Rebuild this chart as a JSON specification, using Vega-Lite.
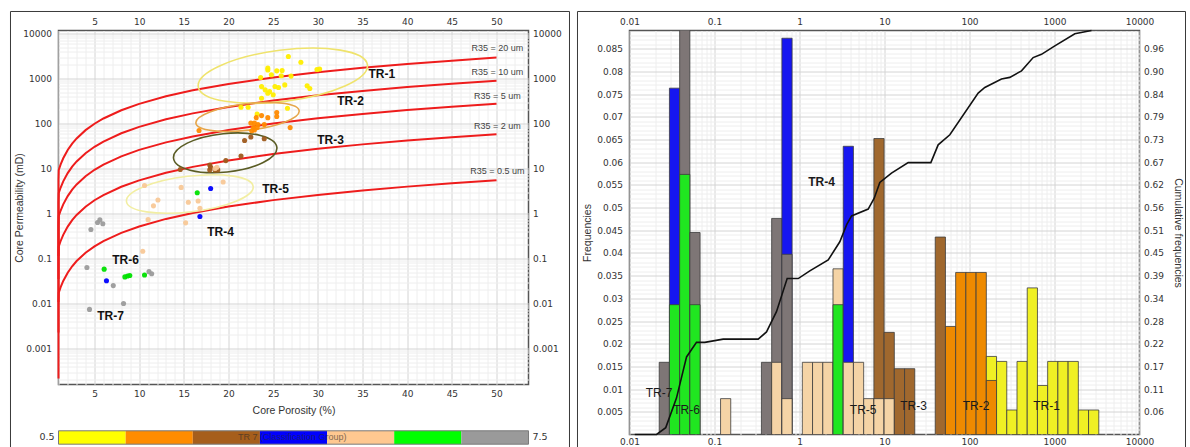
{
  "$schema": "https://vega.github.io/schema/vega-lite/v6.json",
  "background": "white",
  "padding": {"left": 8.5, "top": 9.5, "right": 0, "bottom": 0},
  "bounds": "flush",
  "spacing": 101,
  "datasets": {
    "pts": [
      {"phi": 26.7, "k": 3090, "tr": 1}, {"phi": 28.1, "k": 2300, "tr": 1}, {"phi": 24.4, "k": 1700, "tr": 1},
      {"phi": 24.8, "k": 1210, "tr": 1}, {"phi": 25.4, "k": 1480, "tr": 1}, {"phi": 25.9, "k": 1150, "tr": 1},
      {"phi": 27.0, "k": 1130, "tr": 1}, {"phi": 23.6, "k": 1050, "tr": 1}, {"phi": 29.9, "k": 1590, "tr": 1},
      {"phi": 30.2, "k": 1620, "tr": 1}, {"phi": 23.7, "k": 660, "tr": 1}, {"phi": 24.1, "k": 560, "tr": 1},
      {"phi": 24.6, "k": 515, "tr": 1}, {"phi": 25.0, "k": 435, "tr": 1}, {"phi": 25.6, "k": 630, "tr": 1},
      {"phi": 26.3, "k": 720, "tr": 1}, {"phi": 24.4, "k": 470, "tr": 1}, {"phi": 28.8, "k": 690, "tr": 1},
      {"phi": 29.1, "k": 600, "tr": 1}, {"phi": 26.6, "k": 219, "tr": 1}, {"phi": 21.4, "k": 229, "tr": 1},
      {"phi": 22.2, "k": 229, "tr": 1}, {"phi": 23.2, "k": 162, "tr": 1}, {"phi": 24.4, "k": 1550, "tr": 1},
      {"phi": 26.0, "k": 1510, "tr": 1}, {"phi": 23.7, "k": 365, "tr": 1}, {"phi": 25.2, "k": 665, "tr": 1},
      {"phi": 25.4, "k": 175, "tr": 2}, {"phi": 24.4, "k": 135, "tr": 2}, {"phi": 23.1, "k": 135, "tr": 2},
      {"phi": 22.5, "k": 102, "tr": 2}, {"phi": 22.9, "k": 102, "tr": 2}, {"phi": 23.3, "k": 95, "tr": 2},
      {"phi": 22.8, "k": 81, "tr": 2}, {"phi": 23.2, "k": 81, "tr": 2}, {"phi": 22.6, "k": 69, "tr": 2},
      {"phi": 22.9, "k": 72, "tr": 2}, {"phi": 26.9, "k": 81, "tr": 2}, {"phi": 16.7, "k": 70, "tr": 2},
      {"phi": 24.0, "k": 95, "tr": 2}, {"phi": 25.4, "k": 143, "tr": 2}, {"phi": 23.7, "k": 150, "tr": 2},
      {"phi": 22.5, "k": 50, "tr": 3}, {"phi": 24.0, "k": 46, "tr": 3}, {"phi": 21.8, "k": 42, "tr": 3},
      {"phi": 21.4, "k": 19, "tr": 3}, {"phi": 19.7, "k": 15, "tr": 3}, {"phi": 17.9, "k": 12, "tr": 3},
      {"phi": 17.9, "k": 9.3, "tr": 3}, {"phi": 18.5, "k": 9.3, "tr": 3}, {"phi": 18.8, "k": 9.3, "tr": 3},
      {"phi": 14.6, "k": 9.5, "tr": 3}, {"phi": 18.0, "k": 10.7, "tr": 3},
      {"phi": 18.5, "k": 10, "tr": 5}, {"phi": 19.4, "k": 5, "tr": 5}, {"phi": 14.7, "k": 3.8, "tr": 5},
      {"phi": 15.5, "k": 1.78, "tr": 5}, {"phi": 16.6, "k": 1.9, "tr": 5}, {"phi": 16.8, "k": 1.3, "tr": 5},
      {"phi": 15.2, "k": 0.62, "tr": 5}, {"phi": 10.6, "k": 4.2, "tr": 5}, {"phi": 12.1, "k": 2.0, "tr": 5},
      {"phi": 11.6, "k": 1.48, "tr": 5}, {"phi": 11.0, "k": 0.73, "tr": 5}, {"phi": 10.4, "k": 0.145, "tr": 5},
      {"phi": 18.7, "k": 10.7, "tr": 5},
      {"phi": 18.0, "k": 3.6, "tr": 4}, {"phi": 16.8, "k": 0.86, "tr": 4}, {"phi": 6.34, "k": 0.032, "tr": 4},
      {"phi": 16.5, "k": 2.9, "tr": 6}, {"phi": 6.08, "k": 0.058, "tr": 6}, {"phi": 8.4, "k": 0.039, "tr": 6},
      {"phi": 8.7, "k": 0.041, "tr": 6}, {"phi": 8.95, "k": 0.042, "tr": 6}, {"phi": 10.6, "k": 0.043, "tr": 6},
      {"phi": 5.34, "k": 0.63, "tr": 7}, {"phi": 5.6, "k": 0.72, "tr": 7}, {"phi": 5.93, "k": 0.59, "tr": 7},
      {"phi": 4.6, "k": 0.44, "tr": 7}, {"phi": 4.15, "k": 0.063, "tr": 7}, {"phi": 7.1, "k": 0.025, "tr": 7},
      {"phi": 11.1, "k": 0.051, "tr": 7}, {"phi": 11.4, "k": 0.046, "tr": 7}, {"phi": 8.25, "k": 0.01, "tr": 7},
      {"phi": 4.44, "k": 0.0074, "tr": 7}
    ],
    "r35curves": [
      {"r": "20", "phi": 0.05, "k": 0.1138}, {"r": "20", "phi": 0.1, "k": 0.315}, {"r": "20", "phi": 0.2, "k": 0.8724},
      {"r": "20", "phi": 0.4, "k": 2.416}, {"r": "20", "phi": 0.7, "k": 5.497}, {"r": "20", "phi": 1, "k": 9.284},
      {"r": "20", "phi": 1.2, "k": 12.14}, {"r": "20", "phi": 1.5, "k": 16.85}, {"r": "20", "phi": 2, "k": 25.71},
      {"r": "20", "phi": 2.5, "k": 35.68}, {"r": "20", "phi": 3, "k": 46.66}, {"r": "20", "phi": 4, "k": 71.18},
      {"r": "20", "phi": 5, "k": 98.81}, {"r": "20", "phi": 6, "k": 129.2}, {"r": "20", "phi": 8, "k": 197.2},
      {"r": "20", "phi": 10, "k": 273.6}, {"r": "20", "phi": 13, "k": 402.3}, {"r": "20", "phi": 16, "k": 545.9},
      {"r": "20", "phi": 20, "k": 757.8}, {"r": "20", "phi": 25, "k": 1051.6}, {"r": "20", "phi": 30, "k": 1374.7},
      {"r": "20", "phi": 35, "k": 1724.6}, {"r": "20", "phi": 40, "k": 2098.2}, {"r": "20", "phi": 45, "k": 2494.6},
      {"r": "20", "phi": 50, "k": 2911.6},
      {"r": "10", "phi": 0.05, "k": 0.035}, {"r": "10", "phi": 0.1, "k": 0.09688}, {"r": "10", "phi": 0.2, "k": 0.2683},
      {"r": "10", "phi": 0.4, "k": 0.7431}, {"r": "10", "phi": 0.7, "k": 1.691}, {"r": "10", "phi": 1, "k": 2.855},
      {"r": "10", "phi": 1.2, "k": 3.734}, {"r": "10", "phi": 1.5, "k": 5.182}, {"r": "10", "phi": 2, "k": 7.908},
      {"r": "10", "phi": 2.5, "k": 10.974}, {"r": "10", "phi": 3, "k": 14.35}, {"r": "10", "phi": 4, "k": 21.89},
      {"r": "10", "phi": 5, "k": 30.39}, {"r": "10", "phi": 6, "k": 39.74}, {"r": "10", "phi": 8, "k": 60.65},
      {"r": "10", "phi": 10, "k": 84.15}, {"r": "10", "phi": 13, "k": 123.7}, {"r": "10", "phi": 16, "k": 167.9},
      {"r": "10", "phi": 20, "k": 233.1}, {"r": "10", "phi": 25, "k": 323.4}, {"r": "10", "phi": 30, "k": 422.8},
      {"r": "10", "phi": 35, "k": 530.4}, {"r": "10", "phi": 40, "k": 645.3}, {"r": "10", "phi": 45, "k": 767.2},
      {"r": "10", "phi": 50, "k": 895.5},
      {"r": "5", "phi": 0.05, "k": 0.01077}, {"r": "5", "phi": 0.1, "k": 0.02981}, {"r": "5", "phi": 0.2, "k": 0.08257},
      {"r": "5", "phi": 0.4, "k": 0.2287}, {"r": "5", "phi": 0.7, "k": 0.5203}, {"r": "5", "phi": 1, "k": 0.8787},
      {"r": "5", "phi": 1.2, "k": 1.149}, {"r": "5", "phi": 1.5, "k": 1.595}, {"r": "5", "phi": 2, "k": 2.433},
      {"r": "5", "phi": 2.5, "k": 3.377}, {"r": "5", "phi": 3, "k": 4.416}, {"r": "5", "phi": 4, "k": 6.737},
      {"r": "5", "phi": 5, "k": 9.352}, {"r": "5", "phi": 6, "k": 12.23}, {"r": "5", "phi": 8, "k": 18.66},
      {"r": "5", "phi": 10, "k": 25.9}, {"r": "5", "phi": 13, "k": 38.08}, {"r": "5", "phi": 16, "k": 51.67},
      {"r": "5", "phi": 20, "k": 71.72}, {"r": "5", "phi": 25, "k": 99.53}, {"r": "5", "phi": 30, "k": 130.1},
      {"r": "5", "phi": 35, "k": 163.2}, {"r": "5", "phi": 40, "k": 198.6}, {"r": "5", "phi": 45, "k": 236.1},
      {"r": "5", "phi": 50, "k": 275.6},
      {"r": "2", "phi": 0.05, "k": 0.002267}, {"r": "2", "phi": 0.1, "k": 0.006276}, {"r": "2", "phi": 0.2, "k": 0.01738},
      {"r": "2", "phi": 0.4, "k": 0.04814}, {"r": "2", "phi": 0.7, "k": 0.1095}, {"r": "2", "phi": 1, "k": 0.185},
      {"r": "2", "phi": 1.2, "k": 0.2419}, {"r": "2", "phi": 1.5, "k": 0.3357}, {"r": "2", "phi": 2, "k": 0.5123},
      {"r": "2", "phi": 2.5, "k": 0.7109}, {"r": "2", "phi": 3, "k": 0.9297}, {"r": "2", "phi": 4, "k": 1.4183},
      {"r": "2", "phi": 5, "k": 1.9688}, {"r": "2", "phi": 6, "k": 2.574}, {"r": "2", "phi": 8, "k": 3.929},
      {"r": "2", "phi": 10, "k": 5.451}, {"r": "2", "phi": 13, "k": 8.016}, {"r": "2", "phi": 16, "k": 10.877},
      {"r": "2", "phi": 20, "k": 15.1}, {"r": "2", "phi": 25, "k": 20.95}, {"r": "2", "phi": 30, "k": 27.39},
      {"r": "2", "phi": 35, "k": 34.36}, {"r": "2", "phi": 40, "k": 41.8}, {"r": "2", "phi": 45, "k": 49.7},
      {"r": "2", "phi": 50, "k": 58.01},
      {"r": "0.5", "phi": 0.05, "k": 0.0002145}, {"r": "0.5", "phi": 0.1, "k": 0.000594}, {"r": "0.5", "phi": 0.2, "k": 0.001645},
      {"r": "0.5", "phi": 0.4, "k": 0.004556}, {"r": "0.5", "phi": 0.7, "k": 0.010365}, {"r": "0.5", "phi": 1, "k": 0.017506},
      {"r": "0.5", "phi": 1.2, "k": 0.02289}, {"r": "0.5", "phi": 1.5, "k": 0.03177}, {"r": "0.5", "phi": 2, "k": 0.04848},
      {"r": "0.5", "phi": 2.5, "k": 0.06728}, {"r": "0.5", "phi": 3, "k": 0.08798}, {"r": "0.5", "phi": 4, "k": 0.13421},
      {"r": "0.5", "phi": 5, "k": 0.18631}, {"r": "0.5", "phi": 6, "k": 0.2436}, {"r": "0.5", "phi": 8, "k": 0.3718},
      {"r": "0.5", "phi": 10, "k": 0.5159}, {"r": "0.5", "phi": 13, "k": 0.7586}, {"r": "0.5", "phi": 16, "k": 1.0293},
      {"r": "0.5", "phi": 20, "k": 1.4289}, {"r": "0.5", "phi": 25, "k": 1.9829}, {"r": "0.5", "phi": 30, "k": 2.592},
      {"r": "0.5", "phi": 35, "k": 3.252}, {"r": "0.5", "phi": 40, "k": 3.956}, {"r": "0.5", "phi": 45, "k": 4.704},
      {"r": "0.5", "phi": 50, "k": 5.49}
    ],
    "r35labels": [
      {"phi": 50.1, "k": 4710, "label": "R35 = 20 um"},
      {"phi": 50.1, "k": 1360, "label": "R35 = 10 um"},
      {"phi": 50.1, "k": 419, "label": "R35 = 5 um"},
      {"phi": 50.1, "k": 87, "label": "R35 = 2 um"},
      {"phi": 50.1, "k": 8.58, "label": "R35 = 0.5 um"}
    ],
    "ellipses": [
      {"tr": 1, "phi": 26.08, "k": 1154},
      {"tr": 2, "phi": 22.13, "k": 139.5},
      {"tr": 3, "phi": 19.63, "k": 22.33},
      {"tr": 5, "phi": 15.67, "k": 2.713}
    ],
    "trlabels": [
      {"phi": 37.16, "k": 1246, "label": "TR-1"},
      {"phi": 33.66, "k": 308.3, "label": "TR-2"},
      {"phi": 31.42, "k": 44.1, "label": "TR-3"},
      {"phi": 25.26, "k": 3.594, "label": "TR-5"},
      {"phi": 19.1, "k": 0.398, "label": "TR-4"},
      {"phi": 8.47, "k": 0.095, "label": "TR-6"},
      {"phi": 6.79, "k": 0.00541, "label": "TR-7"}
    ],
    "classbar": [
      {"lo": 0.5, "hi": 1.5, "tr": 1}, {"lo": 1.5, "hi": 2.5, "tr": 2}, {"lo": 2.5, "hi": 3.5, "tr": 3},
      {"lo": 3.5, "hi": 4.5, "tr": 4}, {"lo": 4.5, "hi": 5.5, "tr": 5}, {"lo": 5.5, "hi": 6.5, "tr": 6},
      {"lo": 6.5, "hi": 7.5, "tr": 7}
    ],
    "bins": [
      {"lo": 0.02236, "hi": 0.02949, "tr": 7, "f": 0.0159},
      {"lo": 0.02949, "hi": 0.0389, "tr": 4, "f": 0.0763},
      {"lo": 0.02949, "hi": 0.0389, "tr": 6, "f": 0.0286},
      {"lo": 0.0389, "hi": 0.05131, "tr": 7, "f": 0.0952},
      {"lo": 0.0389, "hi": 0.05131, "tr": 6, "f": 0.0573},
      {"lo": 0.05131, "hi": 0.06768, "tr": 7, "f": 0.0445},
      {"lo": 0.05131, "hi": 0.06768, "tr": 6, "f": 0.0286},
      {"lo": 0.1178, "hi": 0.1553, "tr": 5, "f": 0.0079},
      {"lo": 0.3565, "hi": 0.4703, "tr": 7, "f": 0.0159},
      {"lo": 0.4703, "hi": 0.6204, "tr": 7, "f": 0.0476},
      {"lo": 0.4703, "hi": 0.6204, "tr": 5, "f": 0.0159},
      {"lo": 0.6204, "hi": 0.8184, "tr": 4, "f": 0.0873},
      {"lo": 0.6204, "hi": 0.8184, "tr": 7, "f": 0.0397},
      {"lo": 0.6204, "hi": 0.8184, "tr": 5, "f": 0.0079},
      {"lo": 1.0794, "hi": 1.4238, "tr": 5, "f": 0.0159},
      {"lo": 1.4238, "hi": 1.8781, "tr": 5, "f": 0.0159},
      {"lo": 1.8781, "hi": 2.4774, "tr": 5, "f": 0.0159},
      {"lo": 2.4774, "hi": 3.2677, "tr": 5, "f": 0.0365},
      {"lo": 2.4774, "hi": 3.2677, "tr": 6, "f": 0.0286},
      {"lo": 3.2677, "hi": 4.3104, "tr": 4, "f": 0.0635},
      {"lo": 3.2677, "hi": 4.3104, "tr": 5, "f": 0.0159},
      {"lo": 4.3104, "hi": 5.6858, "tr": 5, "f": 0.0159},
      {"lo": 5.6858, "hi": 7.5009, "tr": 5, "f": 0.0079},
      {"lo": 7.5009, "hi": 9.892, "tr": 3, "f": 0.0652},
      {"lo": 7.5009, "hi": 9.892, "tr": 5, "f": 0.0079},
      {"lo": 9.892, "hi": 13.05, "tr": 3, "f": 0.0225},
      {"lo": 9.892, "hi": 13.05, "tr": 5, "f": 0.0079},
      {"lo": 13.05, "hi": 17.22, "tr": 3, "f": 0.0145},
      {"lo": 17.22, "hi": 22.71, "tr": 3, "f": 0.0145},
      {"lo": 39.51, "hi": 52.11, "tr": 3, "f": 0.0435},
      {"lo": 52.11, "hi": 68.74, "tr": 2, "f": 0.0238},
      {"lo": 68.74, "hi": 90.68, "tr": 2, "f": 0.0357},
      {"lo": 90.68, "hi": 119.6, "tr": 2, "f": 0.0357},
      {"lo": 119.6, "hi": 157.8, "tr": 2, "f": 0.0357},
      {"lo": 157.8, "hi": 208.1, "tr": 1, "f": 0.0172},
      {"lo": 157.8, "hi": 208.1, "tr": 2, "f": 0.0119},
      {"lo": 208.1, "hi": 274.5, "tr": 1, "f": 0.0161},
      {"lo": 274.5, "hi": 362.1, "tr": 1, "f": 0.0054},
      {"lo": 362.1, "hi": 477.6, "tr": 1, "f": 0.0161},
      {"lo": 477.6, "hi": 630, "tr": 1, "f": 0.0323},
      {"lo": 630, "hi": 831, "tr": 1, "f": 0.0108},
      {"lo": 831, "hi": 1096, "tr": 1, "f": 0.0161},
      {"lo": 1096, "hi": 1446, "tr": 1, "f": 0.0161},
      {"lo": 1446, "hi": 1907, "tr": 1, "f": 0.0161},
      {"lo": 1907, "hi": 2516, "tr": 1, "f": 0.0054},
      {"lo": 2516, "hi": 3319, "tr": 1, "f": 0.0054}
    ],
    "cumulative": [
      {"cx": 0.01154, "cum": 0}, {"cx": 0.0208, "cum": 0}, {"cx": 0.0267, "cum": 0.017},
      {"cx": 0.0357, "cum": 0.09}, {"cx": 0.0469, "cum": 0.192}, {"cx": 0.0614, "cum": 0.228},
      {"cx": 0.0769, "cum": 0.228}, {"cx": 0.1265, "cum": 0.236}, {"cx": 0.3266, "cum": 0.236},
      {"cx": 0.409, "cum": 0.254}, {"cx": 0.536, "cum": 0.304}, {"cx": 0.716, "cum": 0.386},
      {"cx": 0.966, "cum": 0.386}, {"cx": 1.322, "cum": 0.405}, {"cx": 2.177, "cum": 0.432},
      {"cx": 2.98, "cum": 0.477}, {"cx": 3.6, "cum": 0.52}, {"cx": 4.1, "cum": 0.541},
      {"cx": 6.43, "cum": 0.558}, {"cx": 7.57, "cum": 0.585}, {"cx": 8.81, "cum": 0.624},
      {"cx": 12.08, "cum": 0.647}, {"cx": 19.0, "cum": 0.673}, {"cx": 35.1, "cum": 0.673},
      {"cx": 42.8, "cum": 0.717}, {"cx": 58.7, "cum": 0.742}, {"cx": 126.5, "cum": 0.845},
      {"cx": 151.4, "cum": 0.859}, {"cx": 237.8, "cum": 0.88}, {"cx": 297.8, "cum": 0.884},
      {"cx": 409, "cum": 0.9}, {"cx": 561, "cum": 0.933}, {"cx": 703, "cum": 0.941},
      {"cx": 1009, "cum": 0.962}, {"cx": 1734, "cum": 0.992}, {"cx": 2723, "cum": 1.0}
    ],
    "histlabels": [
      {"x": 0.02224, "y": 0.00904, "label": "TR-7"},
      {"x": 0.04684, "y": 0.005445, "label": "TR-6"},
      {"x": 5.616, "y": 0.005445, "label": "TR-5"},
      {"x": 21.94, "y": 0.006327, "label": "TR-3"},
      {"x": 119.2, "y": 0.006327, "label": "TR-2"},
      {"x": 805.2, "y": 0.006327, "label": "TR-1"}
    ],
    "histlabelsBold": [
      {"x": 1.815, "y": 0.05571, "label": "TR-4"}
    ],
    "single": [{}]
  },
  "hconcat": [
    {
      "width": 470,
      "height": 354,
      "layer": [
        {
          "layer": [
            {
              "data": {"name": "r35curves"},
              "mark": {"type": "line", "color": "#ee1c1c", "strokeWidth": 2},
              "encoding": {
                "x": {
                  "field": "phi", "type": "quantitative",
                  "scale": {"type": "linear", "domain": [0.97, 53.58], "clamp": true, "nice": false, "zero": false},
                  "axis": {
                    "orient": "bottom", "title": "Core Porosity (%)", "labelPadding": 5, "titlePadding": 7,
                    "values": [1,2,3,4,5,6,7,8,9,10,11,12,13,14,15,16,17,18,19,20,21,22,23,24,25,26,27,28,29,30,31,32,33,34,35,36,37,38,39,40,41,42,43,44,45,46,47,48,49,50,51,52,53],
                    "labelExpr": "datum.value % 5 === 0 ? datum.label : ''",
                    "grid": true,
                    "gridColor": {"condition": {"test": "datum.value % 5 === 0", "value": "#d4d4d4"}, "value": "#eeeeee"}
                  }
                },
                "y": {
                  "field": "k", "type": "quantitative",
                  "scale": {"type": "log", "domain": [0.0001585, 11660], "nice": false},
                  "axis": {
                    "orient": "left", "title": "Core Permeability (mD)", "labelPadding": 7, "titlePadding": -2,
                    "values": [0.0002,0.0003,0.0004,0.0005,0.0006,0.0007,0.0008,0.0009,0.001,0.002,0.003,0.004,0.005,0.006,0.007,0.008,0.009,0.01,0.02,0.03,0.04,0.05,0.06,0.07,0.08,0.09,0.1,0.2,0.3,0.4,0.5,0.6,0.7,0.8,0.9,1,2,3,4,5,6,7,8,9,10,20,30,40,50,60,70,80,90,100,200,300,400,500,600,700,800,900,1000,2000,3000,4000,5000,6000,7000,8000,9000,10000],
                    "labelExpr": "abs(log(datum.value)/LN10 - round(log(datum.value)/LN10)) < 0.000001 ? format(datum.value, '~g') : ''",
                    "grid": true,
                    "gridColor": {"condition": {"test": "abs(log(datum.value)/LN10 - round(log(datum.value)/LN10)) < 0.000001", "value": "#d4d4d4"}, "value": "#eeeeee"}
                  }
                },
                "detail": {"field": "r", "type": "nominal"}
              }
            },
            {
              "data": {"name": "ellipses"},
              "transform": [{"filter": "datum.tr == 1"}],
              "mark": {"type": "point", "shape": "M -1 0 A 1 0.3 0 1 1 1 0 A 1 0.3 0 1 1 -1 0 Z", "size": 29100, "angle": -7.3, "filled": false, "stroke": "#efe36c", "strokeWidth": 1.6, "opacity": 1},
              "encoding": {
                "x": {"field": "phi", "type": "quantitative", "scale": {"type": "linear", "domain": [0.97, 53.58], "clamp": true, "nice": false, "zero": false}, "axis": null},
                "y": {"field": "k", "type": "quantitative", "scale": {"type": "log", "domain": [0.0001585, 11660], "nice": false}, "axis": null}
              }
            },
            {
              "data": {"name": "ellipses"},
              "transform": [{"filter": "datum.tr == 2"}],
              "mark": {"type": "point", "shape": "M -1 0 A 1 0.255 0 1 1 1 0 A 1 0.255 0 1 1 -1 0 Z", "size": 10816, "angle": -6.8, "filled": false, "stroke": "#e6a64a", "strokeWidth": 1.6, "opacity": 1},
              "encoding": {
                "x": {"field": "phi", "type": "quantitative", "scale": {"type": "linear", "domain": [0.97, 53.58], "clamp": true, "nice": false, "zero": false}, "axis": null},
                "y": {"field": "k", "type": "quantitative", "scale": {"type": "log", "domain": [0.0001585, 11660], "nice": false}, "axis": null}
              }
            },
            {
              "data": {"name": "ellipses"},
              "transform": [{"filter": "datum.tr == 3"}],
              "mark": {"type": "point", "shape": "M -1 0 A 1 0.37 0 1 1 1 0 A 1 0.37 0 1 1 -1 0 Z", "size": 10800, "angle": -6, "filled": false, "stroke": "#5a5c24", "strokeWidth": 1.6, "opacity": 1},
              "encoding": {
                "x": {"field": "phi", "type": "quantitative", "scale": {"type": "linear", "domain": [0.97, 53.58], "clamp": true, "nice": false, "zero": false}, "axis": null},
                "y": {"field": "k", "type": "quantitative", "scale": {"type": "log", "domain": [0.0001585, 11660], "nice": false}, "axis": null}
              }
            },
            {
              "data": {"name": "ellipses"},
              "transform": [{"filter": "datum.tr == 5"}],
              "mark": {"type": "point", "shape": "M -1 0 A 1 0.28 0 1 1 1 0 A 1 0.28 0 1 1 -1 0 Z", "size": 16280, "angle": -6.75, "filled": false, "stroke": "#f2eea2", "strokeWidth": 1.6, "opacity": 1},
              "encoding": {
                "x": {"field": "phi", "type": "quantitative", "scale": {"type": "linear", "domain": [0.97, 53.58], "clamp": true, "nice": false, "zero": false}, "axis": null},
                "y": {"field": "k", "type": "quantitative", "scale": {"type": "log", "domain": [0.0001585, 11660], "nice": false}, "axis": null}
              }
            },
            {
              "data": {"name": "pts"},
              "mark": {"type": "circle", "size": 26, "opacity": 0.95},
              "encoding": {
                "x": {"field": "phi", "type": "quantitative", "scale": {"type": "linear", "domain": [0.97, 53.58], "clamp": true, "nice": false, "zero": false}, "axis": null},
                "y": {"field": "k", "type": "quantitative", "scale": {"type": "log", "domain": [0.0001585, 11660], "nice": false}, "axis": null},
                "color": {
                  "field": "tr", "type": "ordinal", "legend": null,
                  "scale": {"domain": [1, 2, 3, 4, 5, 6, 7], "range": ["#ffee00", "#ff8a00", "#9e5a1c", "#0000ff", "#f8c897", "#00e000", "#9b9b9b"]}
                }
              }
            },
            {
              "data": {"name": "trlabels"},
              "mark": {"type": "text", "font": "Liberation Sans", "fontSize": 12, "fontWeight": "bold", "color": "#111111", "align": "center", "baseline": "middle"},
              "encoding": {
                "x": {"field": "phi", "type": "quantitative", "scale": {"type": "linear", "domain": [0.97, 53.58], "clamp": true, "nice": false, "zero": false}, "axis": null},
                "y": {"field": "k", "type": "quantitative", "scale": {"type": "log", "domain": [0.0001585, 11660], "nice": false}, "axis": null},
                "text": {"field": "label"}
              }
            },
            {
              "data": {"name": "r35labels"},
              "mark": {"type": "text", "font": "Liberation Sans", "fontSize": 9, "color": "#444444", "align": "center", "baseline": "middle"},
              "encoding": {
                "x": {
                  "field": "phi", "type": "quantitative",
                  "scale": {"type": "linear", "domain": [0.97, 53.58], "clamp": true, "nice": false, "zero": false},
                  "axis": {"orient": "top", "title": null, "grid": false, "labelPadding": 4, "values": [5, 10, 15, 20, 25, 30, 35, 40, 45, 50]}
                },
                "y": {
                  "field": "k", "type": "quantitative",
                  "scale": {"type": "log", "domain": [0.0001585, 11660], "nice": false},
                  "axis": {"orient": "right", "title": null, "grid": false, "labelPadding": 4, "format": "~g", "values": [0.001, 0.01, 0.1, 1, 10, 100, 1000, 10000]}
                },
                "text": {"field": "label"}
              }
            }
          ],
          "resolve": {"axis": {"x": "independent", "y": "independent"}}
        },
        {
          "layer": [
            {
              "data": {"name": "classbar"},
              "mark": {"type": "rect"},
              "encoding": {
                "x": {"field": "lo", "type": "quantitative", "scale": {"domain": [0.5, 7.5], "nice": false, "zero": false}, "axis": null},
                "x2": {"field": "hi"},
                "y": {"datum": -0.1308, "type": "quantitative", "scale": {"domain": [0, 1], "nice": false, "zero": false}, "axis": null},
                "y2": {"datum": -0.1686},
                "color": {
                  "field": "tr", "type": "ordinal", "legend": null,
                  "scale": {"domain": [1, 2, 3, 4, 5, 6, 7], "range": ["#ffff00", "#ff8c00", "#a65e1c", "#0000ff", "#ffc890", "#00ff00", "#9a9a9a"]}
                }
              }
            },
            {
              "data": {"name": "single"},
              "mark": {"type": "rect", "fill": null, "stroke": "#7a7a7a", "strokeWidth": 1},
              "encoding": {
                "x": {"datum": 0.5, "type": "quantitative", "scale": {"domain": [0.5, 7.5], "nice": false, "zero": false}, "axis": null},
                "x2": {"datum": 7.5},
                "y": {"datum": -0.1308, "type": "quantitative", "scale": {"domain": [0, 1], "nice": false, "zero": false}, "axis": null},
                "y2": {"datum": -0.1686}
              }
            },
            {
              "data": {"name": "single"},
              "mark": {"type": "text", "font": "Liberation Sans", "fontSize": 9, "color": "#2a2a2a", "opacity": 0.6, "align": "center", "baseline": "middle", "text": "TR 7 (Classification Group)"},
              "encoding": {
                "x": {"datum": 3.98, "type": "quantitative", "scale": {"domain": [0.5, 7.5], "nice": false, "zero": false}, "axis": null},
                "y": {"datum": -0.1497, "type": "quantitative", "scale": {"domain": [0, 1], "nice": false, "zero": false}, "axis": null}
              }
            },
            {
              "data": {"name": "single"},
              "mark": {"type": "text", "font": "DejaVu Sans", "fontSize": 9.5, "color": "#333333", "align": "right", "baseline": "middle", "dx": -4, "text": "0.5"},
              "encoding": {
                "x": {"datum": 0.5, "type": "quantitative", "scale": {"domain": [0.5, 7.5], "nice": false, "zero": false}, "axis": null},
                "y": {"datum": -0.1497, "type": "quantitative", "scale": {"domain": [0, 1], "nice": false, "zero": false}, "axis": null}
              }
            },
            {
              "data": {"name": "single"},
              "mark": {"type": "text", "font": "DejaVu Sans", "fontSize": 9.5, "color": "#333333", "align": "left", "baseline": "middle", "dx": 4, "text": "7.5"},
              "encoding": {
                "x": {"datum": 7.5, "type": "quantitative", "scale": {"domain": [0.5, 7.5], "nice": false, "zero": false}, "axis": null},
                "y": {"datum": -0.1497, "type": "quantitative", "scale": {"domain": [0, 1], "nice": false, "zero": false}, "axis": null}
              }
            },
            {
              "data": {"name": "single"},
              "mark": {"type": "rule", "color": "#3a3a3a", "strokeWidth": 1},
              "encoding": {
                "x": {"datum": -0.2149, "type": "quantitative", "scale": {"domain": [0.5, 7.5], "nice": false, "zero": false}, "axis": null},
                "y": {"datum": 1.0537, "type": "quantitative", "scale": {"domain": [0, 1], "nice": false, "zero": false}, "axis": null},
                "y2": {"datum": -0.1808}
              }
            },
            {
              "data": {"name": "single"},
              "mark": {"type": "rule", "color": "#3a3a3a", "strokeWidth": 1},
              "encoding": {
                "x": {"datum": 8.1106, "type": "quantitative", "scale": {"domain": [0.5, 7.5], "nice": false, "zero": false}, "axis": null},
                "y": {"datum": 1.0537, "type": "quantitative", "scale": {"domain": [0, 1], "nice": false, "zero": false}, "axis": null},
                "y2": {"datum": -0.1808}
              }
            },
            {
              "data": {"name": "single"},
              "mark": {"type": "rule", "color": "#3a3a3a", "strokeWidth": 1},
              "encoding": {
                "x": {"datum": -0.2149, "type": "quantitative", "scale": {"domain": [0.5, 7.5], "nice": false, "zero": false}, "axis": null},
                "x2": {"datum": 8.1106},
                "y": {"datum": 1.0537, "type": "quantitative", "scale": {"domain": [0, 1], "nice": false, "zero": false}, "axis": null}
              }
            }
          ]
        }
      ],
      "resolve": {"scale": {"x": "independent", "y": "independent", "color": "independent"}}
    },
    {
      "width": 510,
      "height": 404,
      "layer": [
        {
          "data": {"name": "single"},
          "mark": {"type": "rule", "color": "#3a3a3a", "strokeWidth": 1},
          "encoding": {
            "x": {"datum": 0.002444, "type": "quantitative", "scale": {"type": "log", "domain": [0.01, 10000], "nice": false}, "axis": null},
            "y": {"datum": 0.093186, "type": "quantitative", "scale": {"domain": [0, 0.089], "nice": false, "zero": false}, "axis": null},
            "y2": {"datum": -0.003084}
          }
        },
        {
          "data": {"name": "single"},
          "mark": {"type": "rule", "color": "#3a3a3a", "strokeWidth": 1},
          "encoding": {
            "x": {"datum": 34770, "type": "quantitative", "scale": {"type": "log", "domain": [0.01, 10000], "nice": false}, "axis": null},
            "y": {"datum": 0.093186, "type": "quantitative", "scale": {"domain": [0, 0.089], "nice": false, "zero": false}, "axis": null},
            "y2": {"datum": -0.003084}
          }
        },
        {
          "data": {"name": "single"},
          "mark": {"type": "rule", "color": "#3a3a3a", "strokeWidth": 1},
          "encoding": {
            "x": {"datum": 0.002444, "type": "quantitative", "scale": {"type": "log", "domain": [0.01, 10000], "nice": false}, "axis": null},
            "x2": {"datum": 34770},
            "y": {"datum": 0.093186, "type": "quantitative", "scale": {"domain": [0, 0.089], "nice": false, "zero": false}, "axis": null}
          }
        },
        {
          "data": {"name": "bins"},
          "mark": {"type": "bar", "stroke": "#3c3c3c", "strokeWidth": 0.8, "clip": true, "opacity": 1},
          "encoding": {
            "x": {
              "field": "lo", "type": "quantitative",
              "scale": {"type": "log", "domain": [0.01, 10000], "nice": false},
              "axis": {
                "orient": "bottom", "title": null, "labelPadding": 3,
                "values": [0.01,0.02,0.03,0.04,0.05,0.06,0.07,0.08,0.09,0.1,0.2,0.3,0.4,0.5,0.6,0.7,0.8,0.9,1,2,3,4,5,6,7,8,9,10,20,30,40,50,60,70,80,90,100,200,300,400,500,600,700,800,900,1000,2000,3000,4000,5000,6000,7000,8000,9000,10000],
                "labelExpr": "abs(log(datum.value)/LN10 - round(log(datum.value)/LN10)) < 0.000001 ? format(datum.value, '~g') : ''",
                "grid": true,
                "gridColor": {"condition": {"test": "abs(log(datum.value)/LN10 - round(log(datum.value)/LN10)) < 0.000001", "value": "#d4d4d4"}, "value": "#eeeeee"}
              }
            },
            "x2": {"field": "hi"},
            "y": {
              "field": "f", "type": "quantitative", "stack": null,
              "scale": {"domain": [0, 0.089], "nice": false, "zero": false},
              "axis": {
                "orient": "left", "title": "Frequencies", "labelPadding": 7, "titlePadding": 4,
                "values": [0.001,0.002,0.003,0.004,0.005,0.006,0.007,0.008,0.009,0.01,0.011,0.012,0.013,0.014,0.015,0.016,0.017,0.018,0.019,0.02,0.021,0.022,0.023,0.024,0.025,0.026,0.027,0.028,0.029,0.03,0.031,0.032,0.033,0.034,0.035,0.036,0.037,0.038,0.039,0.04,0.041,0.042,0.043,0.044,0.045,0.046,0.047,0.048,0.049,0.05,0.051,0.052,0.053,0.054,0.055,0.056,0.057,0.058,0.059,0.06,0.061,0.062,0.063,0.064,0.065,0.066,0.067,0.068,0.069,0.07,0.071,0.072,0.073,0.074,0.075,0.076,0.077,0.078,0.079,0.08,0.081,0.082,0.083,0.084,0.085,0.086,0.087,0.088],
                "labelExpr": "abs(datum.value*200 - round(datum.value*200)) < 0.000001 ? format(datum.value, '~g') : ''",
                "grid": true,
                "gridColor": {"condition": {"test": "abs(datum.value*200 - round(datum.value*200)) < 0.000001", "value": "#d4d4d4"}, "value": "#eeeeee"}
              }
            },
            "y2": {"datum": 0},
            "color": {
              "field": "tr", "type": "ordinal", "legend": null,
              "scale": {"domain": [1, 2, 3, 4, 5, 6, 7], "range": ["#f0f024", "#ee8a00", "#a0682e", "#1616f0", "#f5d4a6", "#20e620", "#7e7676"]}
            }
          }
        },
        {
          "data": {"name": "histlabels"},
          "mark": {"type": "text", "font": "Liberation Sans", "fontSize": 12, "color": "#1a1a1a", "align": "center", "baseline": "middle"},
          "encoding": {
            "x": {"field": "x", "type": "quantitative", "scale": {"type": "log", "domain": [0.01, 10000], "nice": false}, "axis": null},
            "y": {"field": "y", "type": "quantitative", "scale": {"domain": [0, 0.089], "nice": false, "zero": false}, "axis": null},
            "text": {"field": "label"}
          }
        },
        {
          "data": {"name": "histlabelsBold"},
          "mark": {"type": "text", "font": "Liberation Sans", "fontSize": 12, "fontWeight": "bold", "color": "#1a1a1a", "align": "center", "baseline": "middle"},
          "encoding": {
            "x": {"field": "x", "type": "quantitative", "scale": {"type": "log", "domain": [0.01, 10000], "nice": false}, "axis": null},
            "y": {"field": "y", "type": "quantitative", "scale": {"domain": [0, 0.089], "nice": false, "zero": false}, "axis": null},
            "text": {"field": "label"}
          }
        },
        {
          "data": {"name": "cumulative"},
          "mark": {"type": "line", "color": "#111111", "strokeWidth": 1.6},
          "encoding": {
            "x": {
              "field": "cx", "type": "quantitative",
              "scale": {"type": "log", "domain": [0.01, 10000], "nice": false},
              "axis": {"orient": "top", "title": null, "grid": false, "labelPadding": 4, "format": "~g", "values": [0.01, 0.1, 1, 10, 100, 1000, 10000]}
            },
            "y": {
              "field": "cum", "type": "quantitative",
              "scale": {"domain": [0, 1], "nice": false, "zero": false},
              "axis": {
                "orient": "right", "title": "Cumulative frequencies", "grid": false, "labelPadding": 4, "titlePadding": 9, "format": ".2f",
                "values": [0.05618, 0.11236, 0.16854, 0.22472, 0.2809, 0.33708, 0.39326, 0.44944, 0.50562, 0.5618, 0.61798, 0.67416, 0.73034, 0.78652, 0.8427, 0.89888, 0.95506]
              }
            }
          }
        }
      ],
      "resolve": {"scale": {"y": "independent"}, "axis": {"x": "independent", "y": "independent"}}
    }
  ],
  "resolve": {"scale": {"color": "independent"}},
  "config": {
    "view": {"stroke": "#555555", "strokeWidth": 1.5},
    "axis": {
      "labelFont": "DejaVu Sans", "labelFontSize": 9, "labelColor": "#333333",
      "titleFont": "Liberation Sans", "titleFontSize": 10.5, "titleFontWeight": "normal", "titleColor": "#333333",
      "domain": false, "ticks": false, "tickSize": 0, "labelFlush": false, "labelOverlap": false, "gridWidth": 1
    }
  }
}
